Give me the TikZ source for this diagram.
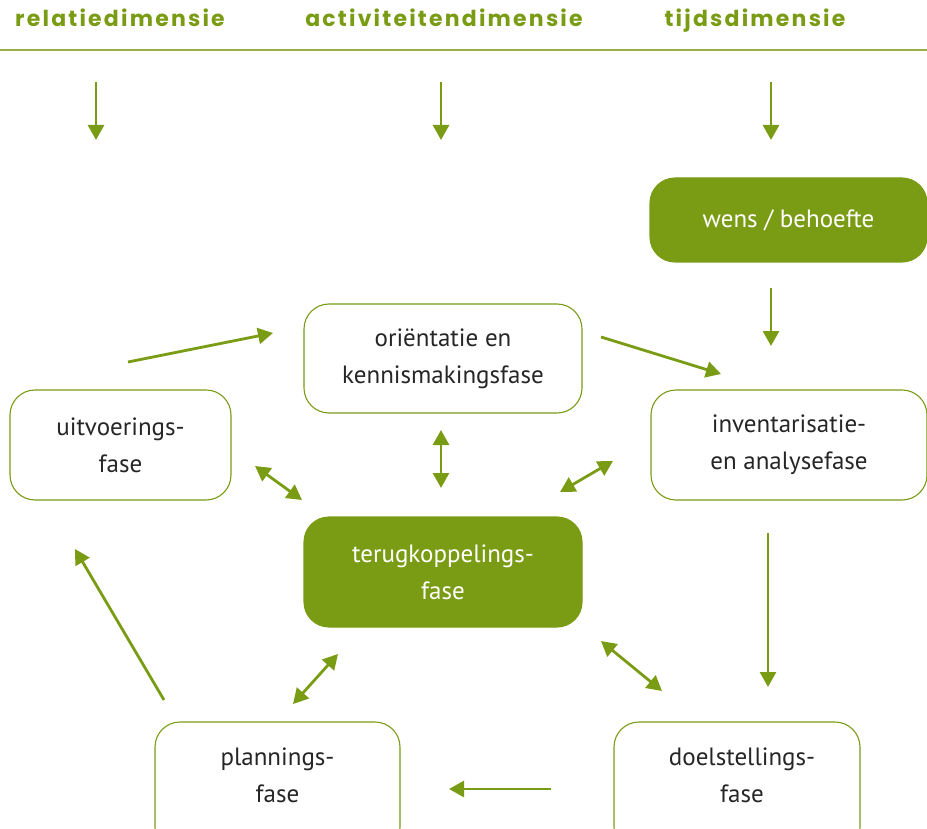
\documentclass[tikz,border=0pt]{standalone}
\usepackage{fontspec}
\setmainfont{PT Sans}
\newfontfamily\headfont{Poppins}[LetterSpace=10]
\usetikzlibrary{arrows.meta}
\definecolor{grn}{RGB}{122,156,20}
\definecolor{lgrn}{RGB}{150,178,70}
\begin{document}
\begin{tikzpicture}[x=1pt,y=-1pt,
  box/.style={draw=grn,line width=1.1pt,rounded corners=25pt,fill=white,align=center,
    font=\fontsize{25}{37}\selectfont,text=black!85,inner sep=0pt},
  fbox/.style={box,fill=grn,text=white},
  head/.style={text=grn,font=\headfont\bfseries\fontsize{22}{24}\selectfont,inner sep=0pt,anchor=base},
  arr/.style={draw=grn,line width=2.8pt,-{Triangle[length=15pt,width=16pt]}},
  darr/.style={draw=grn,line width=2.8pt,{Triangle[length=15pt,width=16pt]}-{Triangle[length=15pt,width=16pt]}}]
\useasboundingbox (0,0) rectangle (927,829);
% headers
\node[head] (h1) at (120,27) {relatiedimensie};
\node[head] (h2) at (444,27) {activiteitendimensie};
\node[head] (h3) at (755,27) {tijdsdimensie};
\coordinate (l1) at (0,50);
\coordinate (l2) at (927,50);
\draw[lgrn,line width=1.3pt] (l1) -- (l2);
% boxes
\node[fbox,minimum width=277pt,minimum height=84pt] (wens) at (788.5,220) {wens / behoefte};
\node[box,minimum width=278pt,minimum height=109pt] (orient) at (443,358.5) {oriëntatie en\\kennismakingsfase};
\node[box,minimum width=221pt,minimum height=110pt] (uitv) at (120.5,445) {uitvoerings-\\fase};
\node[box,minimum width=276pt,minimum height=110pt] (inv) at (789,445) {inventarisatie-\\en analysefase};
\node[fbox,minimum width=278pt,minimum height=110pt] (terug) at (443,572) {terugkoppelings-\\fase};
\node[box,minimum width=245pt,minimum height=130pt] (plan) at (277.5,787) {};
\node[box,minimum width=246pt,minimum height=130pt] (doel) at (737,787) {};
\node[align=center,font=\fontsize{25}{37}\selectfont,text=black!85,inner sep=0pt] (plant) at (277.5,775) {plannings-\\fase};
\node[align=center,font=\fontsize{25}{37}\selectfont,text=black!85,inner sep=0pt] (doelt) at (742,775) {doelstellings-\\fase};
% arrow end points
\coordinate (a1s) at (96,82);  \coordinate (a1e) at (96,140);
\coordinate (a2s) at (441,82); \coordinate (a2e) at (441,140);
\coordinate (a3s) at (771,82); \coordinate (a3e) at (771,140);
\coordinate (a4s) at (771,288); \coordinate (a4e) at (771,346);
\coordinate (a5s) at (128,362); \coordinate (a5e) at (273,333);
\coordinate (a6s) at (601,337); \coordinate (a6e) at (721,374);
\coordinate (a7s) at (441,430); \coordinate (a7e) at (441,488);
\coordinate (a8s) at (255,466); \coordinate (a8e) at (302,500);
\coordinate (a9s) at (613,461); \coordinate (a9e) at (560,492);
\coordinate (a10s) at (768,533); \coordinate (a10e) at (768,687);
\coordinate (a11s) at (338,654); \coordinate (a11e) at (293,704);
\coordinate (a12s) at (601,641); \coordinate (a12e) at (662,691);
\coordinate (a13s) at (551,789); \coordinate (a13e) at (449,789);
\coordinate (a14s) at (164,700); \coordinate (a14e) at (75,549);
\draw[arr] (a1s) -- (a1e);
\draw[arr] (a2s) -- (a2e);
\draw[arr] (a3s) -- (a3e);
\draw[arr] (a4s) -- (a4e);
\draw[arr] (a5s) -- (a5e);
\draw[arr] (a6s) -- (a6e);
\draw[darr] (a7s) -- (a7e);
\draw[darr] (a8s) -- (a8e);
\draw[darr] (a9s) -- (a9e);
\draw[arr] (a10s) -- (a10e);
\draw[darr] (a11s) -- (a11e);
\draw[darr] (a12s) -- (a12e);
\draw[arr] (a13s) -- (a13e);
\draw[arr] (a14s) -- (a14e);
\end{tikzpicture}
\end{document}
